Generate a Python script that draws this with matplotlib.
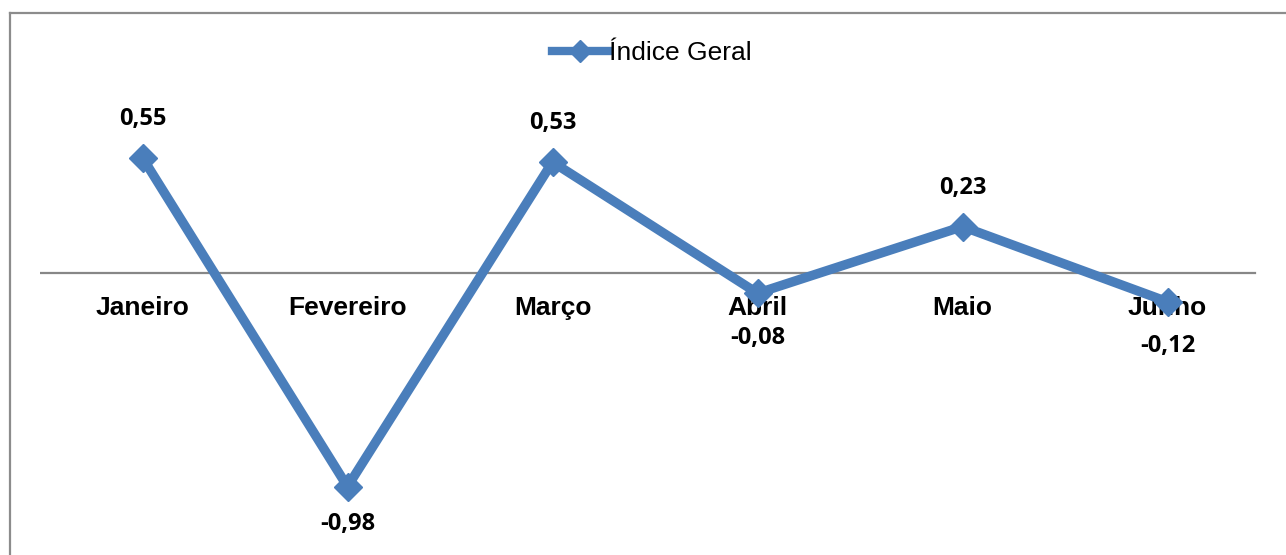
import matplotlib
matplotlib.use('Agg')
import matplotlib.pyplot as plt
from matplotlib.lines import Line2D

# monthly general index values
months = ['Janeiro', 'Fevereiro', 'Março', 'Abril', 'Maio', 'Junho']
indice_geral = [0.55, -0.98, 0.53, -0.08, 0.23, -0.12]
series_name = 'Índice Geral'

W, H = 1286, 555
fig = plt.figure(figsize=(W / 100, H / 100), dpi=100)
fig.patch.set_facecolor('white')

# axes placed so data zero sits at ~276px from the top
ax = fig.add_axes([40 / W, 0, 1230 / W, (H - 100) / H])
px_per_unit = 215.0
zero_px = 276
ax.set_ylim(-(H - zero_px) / px_per_unit, (zero_px - 100) / px_per_unit)
ax.set_xlim(-0.5, len(months) - 0.5)
ax.axis('off')

blue = '#4A7EBB'
x = list(range(len(months)))

# the category axis line in the original sits a few px above data zero
axis_y = 3 / px_per_unit
ax.axhline(axis_y, xmin=0, xmax=(1255 - 40) / 1230, color='#878787', lw=1.6, zorder=1)

# category labels just under the axis line
for i, m in enumerate(months):
    ax.annotate(m, (i, axis_y), xytext=(0, -25), textcoords='offset points',
                ha='center', va='center', fontsize=19, fontweight='bold',
                family='Liberation Sans', color='black', zorder=2)

line, = ax.plot(x, indice_geral, color=blue, lw=6.8, marker='D', ms=14,
                markerfacecolor=blue, markeredgecolor=blue, zorder=3,
                solid_joinstyle='miter', label=series_name)

# value labels above/below the markers
for i, v in enumerate(indice_geral):
    off = 28 if v > 0 else -27
    if -0.2 < v < 0:
        off = -32
    ax.annotate(f'{v:.2f}'.replace('.', ','), (i, v), xytext=(0, off),
                textcoords='offset points', ha='center', va='center',
                fontsize=17, fontweight='bold', family='Open Sans', color='black',
                zorder=4)

leg = fig.legend(handles=[line], loc='center', bbox_to_anchor=(652 / W, 1 - 53 / H),
                 frameon=False, handlelength=2.1, handletextpad=0.05,
                 prop={'family': 'Liberation Sans', 'size': 19})
leg.legend_handles[0].set_markersize(11)
leg.legend_handles[0].set_linewidth(6)

# partial border of the chart frame
border = '#8C8C8C'
fig.add_artist(Line2D([10 / W, 1], [1 - 13 / H, 1 - 13 / H], color=border, lw=1.6))
fig.add_artist(Line2D([10 / W, 10 / W], [0, 1 - 13 / H], color=border, lw=1.6))

fig.savefig('out.png', dpi=100)
